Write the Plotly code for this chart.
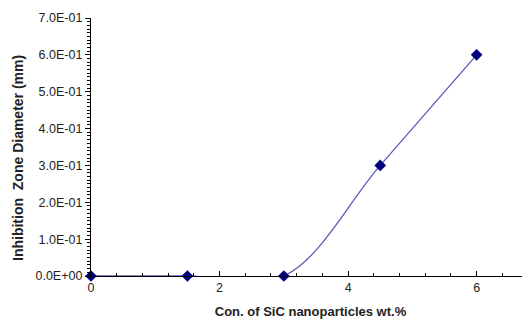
import plotly.graph_objects as go

conc = [0, 1.5, 3, 4.5, 6]
diameter = [0.0, 0.0, 0.0, 0.3, 0.6]
y_tick_vals = [0.0, 0.1, 0.2, 0.3, 0.4, 0.5, 0.6, 0.7]
y_tick_text = ["0.0E+00", "1.0E-01", "2.0E-01", "3.0E-01", "4.0E-01", "5.0E-01", "6.0E-01", "7.0E-01"]
x_tick_vals = [0, 2, 4, 6]

fig = go.Figure()
fig.add_trace(go.Scatter(
    x=conc, y=diameter, mode="lines",
    line=dict(color="#5b5bb5", width=1.3, shape="spline", smoothing=1.0),
    cliponaxis=True, hoverinfo="skip",
))
fig.add_trace(go.Scatter(
    x=conc, y=diameter, mode="markers",
    marker=dict(symbol="diamond", size=9, color="#000080"),
    cliponaxis=False,
))

fig.update_layout(
    width=522, height=319,
    margin=dict(l=83, r=0, t=10, b=51),
    paper_bgcolor="white", plot_bgcolor="white",
    showlegend=False,
    font=dict(family="Liberation Sans, Arial, sans-serif", color="#222222", size=13),
    annotations=[dict(
        text="<b>Inhibition  Zone Diameter (mm)</b>",
        xref="paper", yref="paper", x=-0.166, y=0.458,
        xanchor="center", yanchor="middle", textangle=-90,
        showarrow=False, font=dict(size=14, color="#222222"),
    )],
)
fig.update_xaxes(
    range=[0, 6.83], tickvals=x_tick_vals, ticktext=[str(v) for v in x_tick_vals],
    showline=True, linecolor="black", linewidth=1.2, showgrid=False, zeroline=False,
    ticks="inside", ticklen=5, tickcolor="black",
    minor=dict(dtick=0.4, tick0=0, ticks="inside", ticklen=3, tickcolor="black"),
    title=dict(text="<b>Con. of SiC nanoparticles wt.%</b>", font=dict(size=13), standoff=12),
    tickfont=dict(size=12.5),
)
fig.update_yaxes(
    range=[0, 0.7], tickvals=y_tick_vals, ticktext=y_tick_text,
    showline=True, linecolor="black", linewidth=1.2, showgrid=False, zeroline=False,
    ticks="outside", ticklen=5, tickcolor="black",
    minor=dict(dtick=0.01, tick0=0, ticks="outside", ticklen=3, tickcolor="black"),
    tickfont=dict(size=12.5),
)

fig.write_html("out.html")
